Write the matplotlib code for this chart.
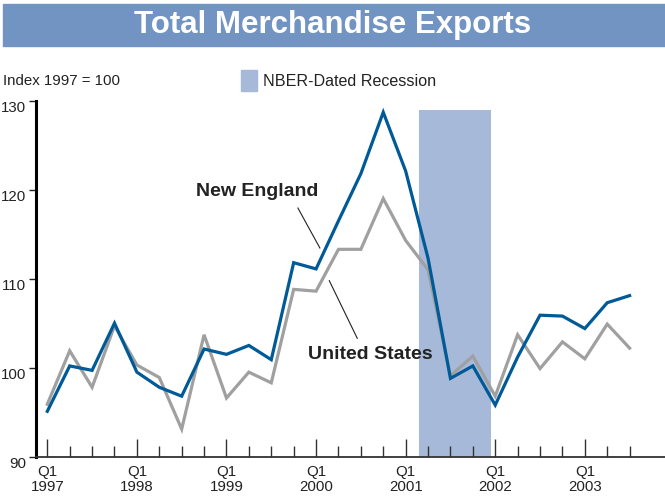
import numpy as np
import matplotlib
matplotlib.use("Agg")
import matplotlib.pyplot as plt
import matplotlib.transforms as mtrans
from matplotlib.patches import Rectangle

# Datos: indice 1997 = 100, trimestral desde Q1 1997 hasta Q3 2003
new_england = [95.1, 100.2, 99.7, 105.0, 99.5, 97.8, 96.8, 102.1, 101.5, 102.5,
               100.9, 111.8, 111.1, 116.5, 121.8, 128.7, 122.1, 112.3, 98.8, 100.2,
               95.8, 101.2, 105.9, 105.8, 104.4, 107.3, 108.1]
estados_unidos = [95.9, 101.9, 97.8, 104.7, 100.3, 98.9, 93.1, 103.7, 96.6, 99.5,
                  98.3, 108.8, 108.6, 113.3, 113.3, 119.0, 114.3, 111.0, 99.1, 101.3,
                  96.8, 103.7, 99.9, 102.9, 101.0, 104.9, 102.2]
anios = ['1997', '1998', '1999', '2000', '2001', '2002', '2003']
recesion = (16.6, 19.8)  # marzo 2001 - noviembre 2001, en trimestres
y_ticks = [90, 100, 110, 120, 130]

azul = '#005a97'
gris = '#a0a0a0'
sombra = '#a6b9d9'
fuente = ['Liberation Sans', 'DejaVu Sans']

W, H = 665, 497
fig = plt.figure(figsize=(W / 100, H / 100), dpi=100)

# Barra del titulo
fig.patches.append(Rectangle((3 / W, 1 - 46 / H), 1 - 3 / W, 42 / H,
                             transform=fig.transFigure, color='#7294c3', zorder=0))
fig.text(333 / W, 1 - 24.5 / H, 'Total Merchandise Exports', color='white',
         fontsize=22.5, fontweight='bold', family=fuente,
         ha='center', va='center')
fig.text(3 / W, 1 - 81 / H, 'Index 1997 = 100', fontsize=10.8, family=fuente,
         ha='left', va='center', color='#222222')
fig.patches.append(Rectangle((241 / W, 1 - 91 / H), 16 / W, 21 / H,
                             transform=fig.transFigure, color=sombra))
fig.text(263 / W, 1 - 81 / H, 'NBER-Dated Recession', fontsize=11.6, family=fuente,
         ha='left', va='center', color='#222222')

ax = fig.add_axes([35.7 / W, 1 - 456.7 / H, 1 - 35.7 / W, (456.7 - 100.7) / H])
x = np.arange(len(new_england))

ax.axvspan(recesion[0], recesion[1], ymin=0, ymax=(128.96 - 90) / 40,
           color=sombra, lw=0, zorder=1)
ax.plot(x, estados_unidos, color=gris, lw=2.3, zorder=2, solid_joinstyle='miter')
ax.plot(x, new_england, color=azul, lw=2.3, zorder=3, solid_joinstyle='miter')

ax.set_xlim(-0.518, 27.58)
ax.set_ylim(90, 130)

for s in ['top', 'right']:
    ax.spines[s].set_visible(False)
ax.spines['left'].set_linewidth(2.2)
ax.spines['left'].set_color('black')
ax.spines['bottom'].set_linewidth(1.3)
ax.spines['bottom'].set_color('#333333')

ax.set_yticks(y_ticks)
ax.set_yticklabels([str(v) for v in y_ticks], family=fuente, fontsize=10.8)
ax.tick_params(axis='y', direction='out', length=5, width=1, pad=2, colors='#222222')
desplaza = mtrans.ScaledTranslation(0, -6 / 100, fig.dpi_scale_trans)
for lab in ax.get_yticklabels():
    lab.set_transform(lab.get_transform() + desplaza)

ax.set_xticks(np.arange(0, 27, 4))
ax.set_xticklabels(['Q1\n' + a for a in anios], family=fuente, fontsize=10.8,
                   linespacing=1.1)
ax.set_xticks(np.arange(0, 27), minor=True)
ax.tick_params(axis='x', which='major', direction='in', length=13, width=1,
               pad=6, colors='#333333')
ax.tick_params(axis='x', which='minor', direction='in', length=8, width=1,
               colors='#333333')
for lab in ax.get_xticklabels():
    lab.set_color('#222222')

# Etiquetas de las series
ax.text(9.36, 119.8, 'New England', fontsize=14, fontweight='bold',
        family=fuente, ha='center', va='center', color='#222222')
ax.plot([11.19, 12.17], [117.94, 113.45], color='#222222', lw=0.8)
ax.text(14.4, 101.43, 'United States', fontsize=14, fontweight='bold',
        family=fuente, ha='center', va='center', color='#222222')
ax.plot([12.59, 13.84], [109.78, 103.3], color='#222222', lw=0.8)

fig.savefig('out.png', dpi=100)
